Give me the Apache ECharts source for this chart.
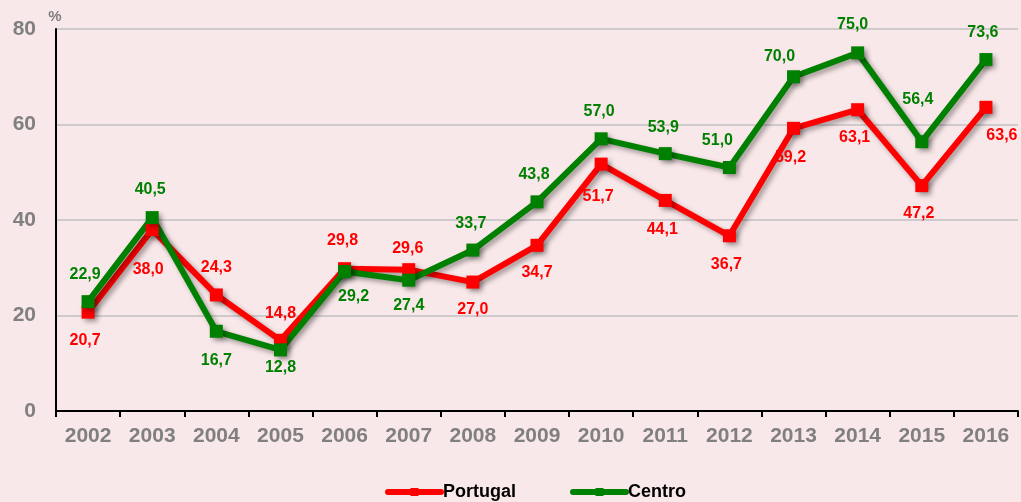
<!DOCTYPE html>
<html>
<head>
<meta charset="utf-8">
<script src="https://cdn.jsdelivr.net/npm/echarts@6/dist/echarts.min.js"></script>
<style>
  html, body { margin: 0; padding: 0; background: #f9e8e9; }
  #chart { width: 1021px; height: 502px; }
</style>
</head>
<body>
<div id="chart"></div>
<script>
// Annual rate (%), 2002-2016
const years = ['2002','2003','2004','2005','2006','2007','2008','2009','2010','2011','2012','2013','2014','2015','2016'];
const portugal = [20.7, 38.0, 24.3, 14.8, 29.8, 29.6, 27.0, 34.7, 51.7, 44.1, 36.7, 59.2, 63.1, 47.2, 63.6];
const centro   = [22.9, 40.5, 16.7, 12.8, 29.2, 27.4, 33.7, 43.8, 57.0, 53.9, 51.0, 70.0, 75.0, 56.4, 73.6];
const yTicks = [0, 20, 40, 60, 80];

// Label placement relative to each marker centre, [dx, dy] in px
const portugalLabelOffsets = [
  [-3, 28], [-4, 40], [0, -27], [0, -27], [-2, -28], [-1, -21], [0, 28], [0, 27],
  [-3, 32], [-3, 29], [-3, 29], [-3, 29], [-3, 28], [-3, 28], [16, 28]
];
const centroLabelOffsets = [
  [-3, -27], [-2, -28], [0, 29], [0, 18], [9, 25], [0, 25], [-2, -26], [-3, -27],
  [-2, -27], [-2, -26], [-12, -27], [-14, -20], [-5, -28], [-4, -42], [-3, -27]
];

const FONT = 'Arial, "Liberation Sans", Helvetica, sans-serif';
const fmt = v => v.toFixed(1).replace('.', ',');
const SHADOW = { shadowColor: 'rgba(0,0,0,0.35)', shadowBlur: 5, shadowOffsetX: 3, shadowOffsetY: 3 };

function buildSeries(name, values, offsets, color) {
  return {
    name: name,
    type: 'line',
    data: values.map((v, i) => ({
      value: v,
      label: { offset: offsets[i] }
    })),
    symbol: 'rect',
    symbolSize: 13,
    lineStyle: Object.assign({ color: color, width: 6 }, SHADOW),
    itemStyle: Object.assign({ color: color }, SHADOW),
    label: {
      show: true,
      position: 'inside',
      formatter: p => fmt(p.value),
      color: color,
      fontFamily: FONT,
      fontWeight: 'bold',
      fontSize: 16
    },
    emphasis: { disabled: true },
    animation: false
  };
}

const chart = echarts.init(document.getElementById('chart'), null, { renderer: 'canvas' });
chart.setOption({
  backgroundColor: '#f9e8e9',
  animation: false,
  grid: { left: 56, right: 3, top: 29, bottom: 91, containLabel: false },
  legend: {
    bottom: -4,
    left: 380,
    itemWidth: 53,
    itemHeight: 10,
    itemGap: 54,
    lineStyle: { width: 6, cap: 'round', shadowBlur: 0, shadowOffsetX: 0, shadowOffsetY: 0 },
    itemStyle: { shadowBlur: 0, shadowOffsetX: 0, shadowOffsetY: 0 },
    textStyle: { color: '#000', fontFamily: FONT, fontWeight: 'bold', fontSize: 18, padding: [0, 0, 0, -3] },
    data: ['Portugal', 'Centro']
  },
  xAxis: {
    type: 'category',
    data: years,
    boundaryGap: true,
    axisLine: { lineStyle: { color: '#000', width: 2 } },
    axisTick: { show: true, length: 6, lineStyle: { color: '#000', width: 2 } },
    axisLabel: { color: '#808080', fontFamily: FONT, fontWeight: 'bold', fontSize: 21, margin: 15 }
  },
  yAxis: {
    type: 'value',
    min: yTicks[0],
    max: yTicks[yTicks.length - 1],
    interval: yTicks[1] - yTicks[0],
    name: '%',
    nameLocation: 'end',
    nameGap: 5,
    nameTextStyle: { color: '#808080', fontFamily: FONT, fontWeight: 'bold', fontSize: 15, align: 'center', padding: [0, 0, 0, -2] },
    axisLine: { show: true, lineStyle: { color: '#000', width: 2 } },
    axisTick: { show: false },
    splitLine: { lineStyle: { color: '#c0c0c0', width: 1.5 } },
    axisLabel: { color: '#808080', fontFamily: FONT, fontWeight: 'bold', fontSize: 21, margin: 20 }
  },
  series: [
    buildSeries('Portugal', portugal, portugalLabelOffsets, '#ff0000'),
    buildSeries('Centro', centro, centroLabelOffsets, '#008000')
  ]
});
</script>
</body>
</html>
